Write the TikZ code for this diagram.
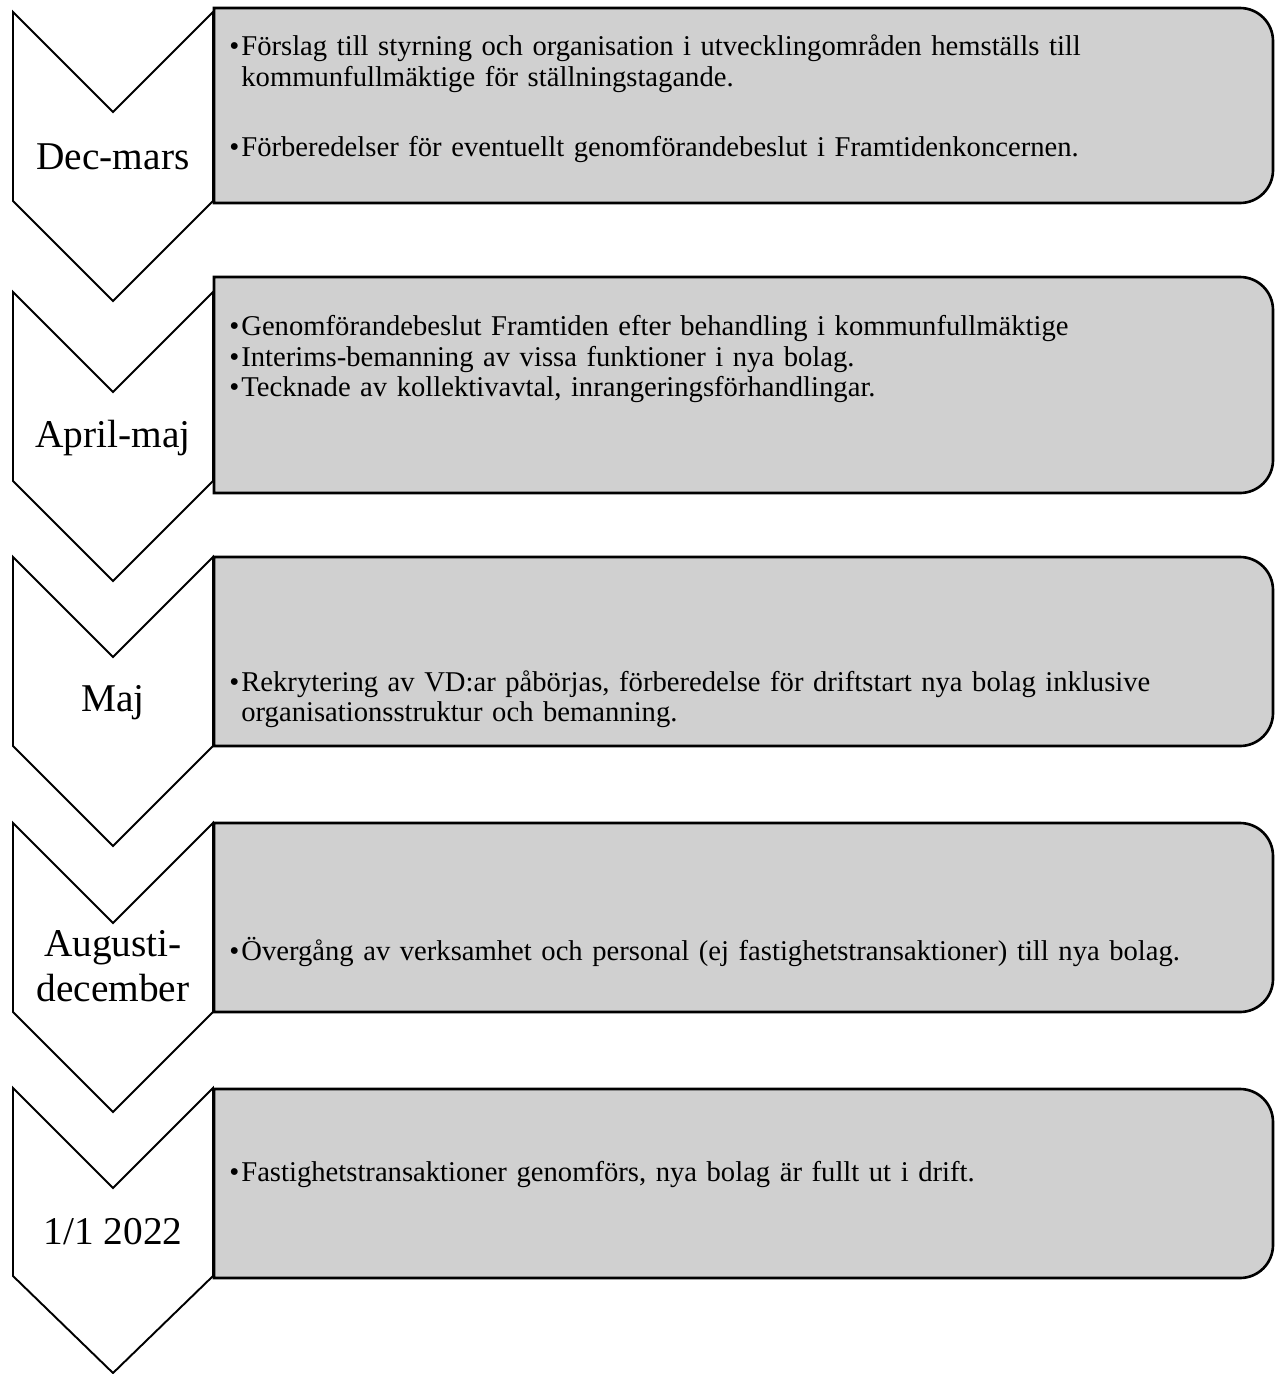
\documentclass[tikz,border=0pt]{standalone}
\usepackage{fontspec}
\setmainfont{Liberation Serif}
\usepackage{tikz}

\definecolor{boxgrey}{RGB}{208,208,208}
\newcommand{\punkt}[1]{\makebox[0.42em][l]{\textbullet}\parbox[t]{20cm}{#1}}

\tikzset{
  chevron/.style={draw, line width=1.1pt, fill=white, line join=miter},
  stepbox/.style={draw, line width=1.5pt, fill=boxgrey},
  datum/.style={font=\fontsize{22.4}{25.5}\selectfont, align=center, inner sep=0pt},
  punkter/.style={anchor=west, text width=20.8cm, align=left, inner sep=0pt, font=\fontsize{16.3}{17.3}\selectfont}
}

\begin{document}
\begin{tikzpicture}[x=0.02cm, y=-0.02cm]
\useasboundingbox (0,0) rectangle (1275,1374);

\draw[chevron] (13,12) -- (113,112) -- (213,12) -- (213,201) -- (113,301) -- (13,201) -- cycle;
\draw[chevron] (13,292) -- (113,392) -- (213,292) -- (213,481) -- (113,581) -- (13,481) -- cycle;
\draw[chevron] (13,557) -- (113,657) -- (213,557) -- (213,746) -- (113,846) -- (13,746) -- cycle;
\draw[chevron] (13,823) -- (113,923) -- (213,823) -- (213,1012) -- (113,1112) -- (13,1012) -- cycle;
\draw[chevron] (13,1088) -- (113,1188) -- (213,1088) -- (213,1276) -- (113,1373) -- (13,1276) -- cycle;

\draw[stepbox] (214,8) -- (1240,8) arc[start angle=90, end angle=0, radius=0.66cm] -- (1273,170) arc[start angle=0, end angle=-90, radius=0.66cm] -- (214,203) -- cycle;
\draw[stepbox] (214,277) -- (1240,277) arc[start angle=90, end angle=0, radius=0.66cm] -- (1273,460) arc[start angle=0, end angle=-90, radius=0.66cm] -- (214,493) -- cycle;
\draw[stepbox] (214,557) -- (1240,557) arc[start angle=90, end angle=0, radius=0.66cm] -- (1273,713) arc[start angle=0, end angle=-90, radius=0.66cm] -- (214,746) -- cycle;
\draw[stepbox] (214,823) -- (1240,823) arc[start angle=90, end angle=0, radius=0.66cm] -- (1273,979) arc[start angle=0, end angle=-90, radius=0.66cm] -- (214,1012) -- cycle;
\draw[stepbox] (214,1089) -- (1240,1089) arc[start angle=90, end angle=0, radius=0.66cm] -- (1273,1245) arc[start angle=0, end angle=-90, radius=0.66cm] -- (214,1278) -- cycle;

\node[datum] (d1) at (113,157) {Dec-mars};
\node[datum] (d2) at (113,438) {April-maj};
\node[datum] (d3) at (113,703) {Maj};
\node[datum] (d4) at (113,966) {Augusti-\\december};
\node[datum] (d5) at (113,1232) {1/1 2022};

\node[punkter] (t1) at (229,99) {\punkt{Förslag till styrning och organisation i utvecklingområden hemställs till\\kommunfullmäktige för ställningstagande.}\\[0.85cm]\punkt{Förberedelser för eventuellt genomförandebeslut i Framtidenkoncernen.}};
\node[punkter] (t2) at (229,359) {\punkt{Genomförandebeslut Framtiden efter behandling i kommunfullmäktige}\\\punkt{Interims-bemanning av vissa funktioner i nya bolag.}\\\punkt{Tecknade av kollektivavtal, inrangeringsförhandlingar.}};
\node[punkter] (t3) at (229,699) {\punkt{Rekrytering av VD:ar påbörjas, förberedelse för driftstart nya bolag inklusive\\organisationsstruktur och bemanning.}};
\node[punkter] (t4) at (229,952) {\punkt{Övergång av verksamhet och personal (ej fastighetstransaktioner) till nya bolag.}};
\node[punkter] (t5) at (229,1174) {\punkt{Fastighetstransaktioner genomförs, nya bolag är fullt ut i drift.}};
\end{tikzpicture}
\end{document}
